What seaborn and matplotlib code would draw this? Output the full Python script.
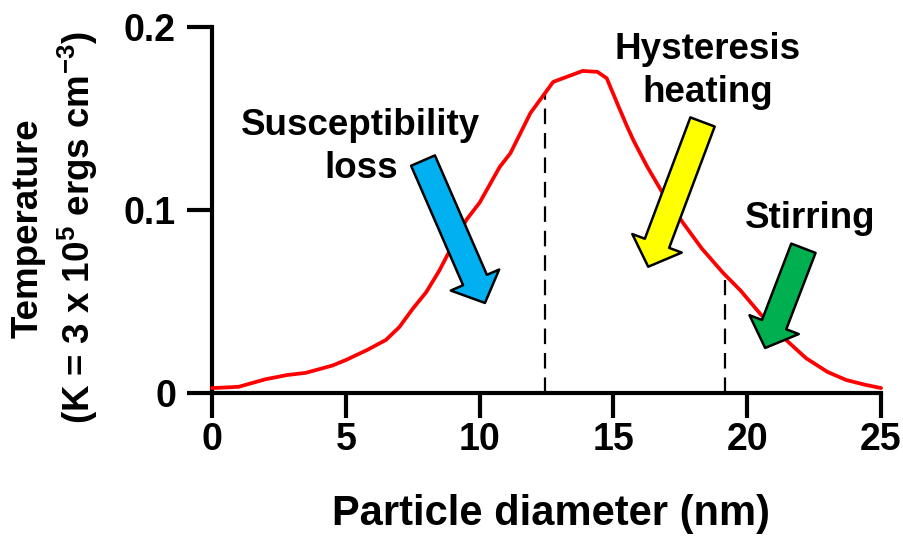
import matplotlib
matplotlib.use("Agg")
import matplotlib.pyplot as plt
import seaborn as sns
import numpy as np
import pandas as pd

# ---- data ----
diameter_nm = [0, 0.5, 1.0, 2.0, 2.8, 3.5, 4.5, 5.0, 5.8, 6.5, 7.0, 7.5, 8.0, 8.5, 8.8,
               9.5, 10.0, 10.75, 11.15, 11.9, 12.4, 12.75, 13.3, 13.85, 14.4, 14.75,
               15.15, 15.5, 15.75, 16.25, 16.85, 17.6, 18.3, 19.1, 19.75, 20.5, 21.3,
               22.2, 23.0, 23.7, 24.4, 25.0]
temperature = [0.0027, 0.003, 0.0034, 0.0075, 0.0098, 0.011, 0.015, 0.018, 0.0235, 0.029,
               0.036, 0.046, 0.055, 0.067, 0.0755, 0.0945, 0.104, 0.1235, 0.131, 0.153,
               0.163, 0.170, 0.173, 0.176, 0.1755, 0.172, 0.158, 0.146, 0.138, 0.124,
               0.109, 0.093, 0.079, 0.0656, 0.056, 0.043, 0.031, 0.019, 0.0115, 0.0071,
               0.0045, 0.0027]

dashed_x = [12.45, 19.17]
dashed_top = [0.164, 0.062]

x_ticks = [0, 5, 10, 15, 20, 25]
x_tick_labels = ["0", "5", "10", "15", "20", "25"]
y_ticks = [0, 0.1, 0.2]
y_tick_labels = ["0", "0.1", "0.2"]

annot_labels = ["Susceptibility\nloss", "Hysteresis\nheating", "Stirring"]
annot_text_xy = [(5.57, 0.1175), (18.53, 0.1590), (22.35, 0.0902)]
arrow_tail = [(7.885, 0.127), (18.33, 0.1481), (22.10, 0.0791)]
arrow_tip = [(10.20, 0.0492), (16.30, 0.0690), (20.67, 0.0246)]
arrow_colors = ["#00B0F0", "#FFFF00", "#00B050"]

# ---- style ----
sns.set_theme(style="ticks")
plt.rcParams["font.family"] = ["Liberation Sans", "DejaVu Sans"]
plt.rcParams["font.weight"] = "bold"
plt.rcParams["text.color"] = "black"
plt.rcParams["axes.labelcolor"] = "black"
plt.rcParams["xtick.color"] = "black"
plt.rcParams["ytick.color"] = "black"
plt.rcParams["mathtext.fontset"] = "custom"
plt.rcParams["mathtext.rm"] = "Liberation Sans:bold"
plt.rcParams["mathtext.bf"] = "Liberation Sans:bold"
plt.rcParams["mathtext.default"] = "bf"

fig = plt.figure(figsize=(9.04, 5.39), dpi=100)
ax = fig.add_axes([0.2345, 0.2709, 0.9746 - 0.2345, 0.9499 - 0.2709])

df = pd.DataFrame({"d": diameter_nm, "T": temperature})
sns.lineplot(data=df, x="d", y="T", ax=ax, color="#FF0000", linewidth=2.7,
             zorder=3, clip_on=False)

for xv, top in zip(dashed_x, dashed_top):
    ax.plot([xv, xv], [0, top], color="black", linewidth=1.6,
            dashes=(7, 4), zorder=2)

ax.set_xlim(0, 25)
ax.set_ylim(0, 0.2)
ax.set_xticks(x_ticks, labels=x_tick_labels)
ax.set_yticks(y_ticks, labels=y_tick_labels)
ax.tick_params(axis="both", length=18, width=3, colors="black", labelsize=27,
               labelcolor="black")
ax.tick_params(axis="x", pad=3)
ax.tick_params(axis="y", pad=8)
for lab in ax.get_xticklabels() + ax.get_yticklabels():
    lab.set_fontweight("bold")
sns.despine(ax=ax)
for s in ["left", "bottom"]:
    ax.spines[s].set_linewidth(3)
    ax.spines[s].set_color("black")

ax.set_xlabel("")
ax.set_ylabel("")
fig.text(551 / 904, 1 - 525 / 539, "Particle diameter (nm)", ha="center",
         va="baseline", fontsize=30, fontweight="bold", color="black")
fig.text(55 / 904, 1 - 228 / 539,
         "Temperature\n(K = 3 x 10$^{5}$ ergs cm$^{-3}$)",
         rotation=90, ha="center", va="center", multialignment="center",
         fontsize=26.5, fontweight="bold", linespacing=1.3, color="black")

for lab, (tx, ty) in zip(annot_labels, annot_text_xy):
    ax.text(tx, ty, lab, ha="center", va="baseline", fontsize=26.5,
            fontweight="bold", linespacing=1.28, clip_on=False, color="black")

for tail, tip, col in zip(arrow_tail, arrow_tip, arrow_colors):
    ax.annotate("", xy=tip, xytext=tail,
                arrowprops=dict(arrowstyle="simple,head_length=1.8,head_width=3.8,tail_width=1.87",
                                mutation_scale=10, fc=col, ec="black", lw=1.8,
                                shrinkA=0, shrinkB=0), zorder=5)

fig.savefig("out.png", dpi=100)
